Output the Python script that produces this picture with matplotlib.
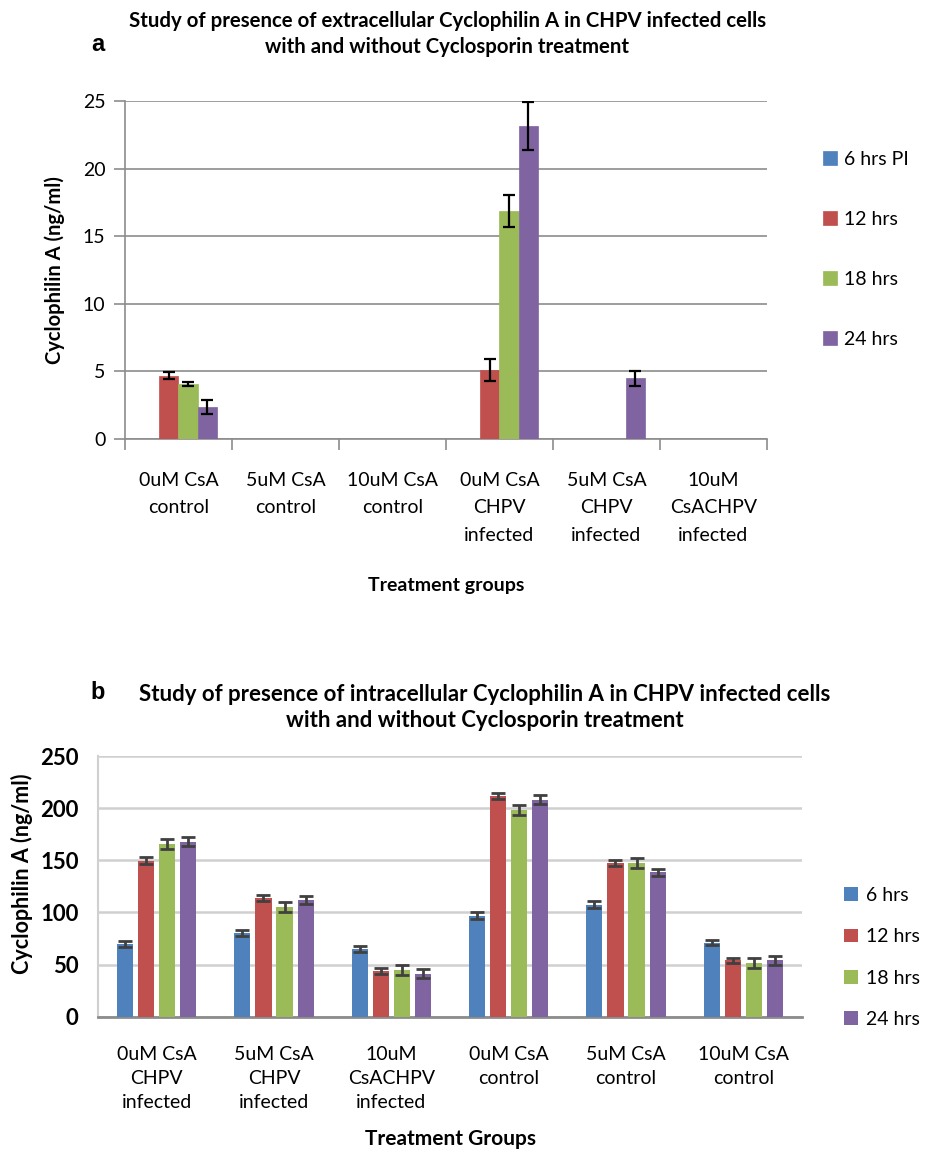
import matplotlib
matplotlib.use("Agg")
import matplotlib.pyplot as plt
import numpy as np

plt.rcParams['font.family'] = ['Lato', 'DejaVu Sans']

# panel a - extracellular
groups_a = ["0uM CsA\ncontrol", "5uM CsA\ncontrol", "10uM CsA\ncontrol",
            "0uM CsA\nCHPV\ninfected", "5uM CsA\nCHPV\ninfected", "10uM\nCsACHPV\ninfected"]
series_a = ["6 hrs PI", "12 hrs", "18 hrs", "24 hrs"]
h6_a = [0, 0, 0, 0, 0, 0]
h12_a = [4.68, 0, 0, 5.1, 0, 0]
h18_a = [4.07, 0, 0, 16.86, 0, 0]
h24_a = [2.39, 0, 0, 23.15, 4.5, 0]
e6_a = [0, 0, 0, 0, 0, 0]
e12_a = [0.25, 0, 0, 0.8, 0, 0]
e18_a = [0.15, 0, 0, 1.2, 0, 0]
e24_a = [0.52, 0, 0, 1.75, 0.55, 0]

# panel b - intracellular
groups_b = ["0uM CsA\nCHPV\ninfected", "5uM CsA\nCHPV\ninfected", "10uM\nCsACHPV\ninfected",
            "0uM CsA\ncontrol", "5uM CsA\ncontrol", "10uM CsA\ncontrol"]
series_b = ["6 hrs", "12 hrs", "18 hrs", "24 hrs"]
h6_b = [69.8, 80.1, 65.1, 97.0, 107.5, 71.2]
h12_b = [149.6, 114.2, 43.7, 211.4, 147.7, 54.2]
h18_b = [165.5, 105.2, 44.7, 198.7, 147.3, 51.4]
h24_b = [167.8, 112.0, 41.2, 208.0, 138.4, 54.0]
e6_b = [2.7, 2.7, 2.7, 3.2, 3.2, 2.7]
e12_b = [3.2, 2.8, 2.8, 2.7, 2.7, 2.6]
e18_b = [4.9, 5.0, 5.0, 4.8, 5.0, 5.0]
e24_b = [4.3, 4.0, 4.5, 4.3, 3.7, 4.0]

colors = ["#4F81BD", "#C0504D", "#9BBB59", "#8064A2"]

fig = plt.figure(figsize=(9.3, 11.49), dpi=100)

# ---------- panel a ----------
ax = fig.add_axes([0.1344, 0.6179, 0.6903, 0.2942])
x = np.arange(len(groups_a))
step = 0.178
vals_a = [h6_a, h12_a, h18_a, h24_a]
errs_a = [e6_a, e12_a, e18_a, e24_a]
for i in range(4):
    pos = x + (i - 1.5) * step
    v = np.array(vals_a[i], dtype=float)
    ax.bar(pos, v, width=step, color=colors[i], edgecolor=colors[i], linewidth=0.5, label=series_a[i], zorder=3)
    m = v > 0
    if m.any():
        ax.errorbar(pos[m], v[m], yerr=np.array(errs_a[i])[m], fmt="none", ecolor="black",
                    elinewidth=1.6, capsize=4, capthick=1.6, zorder=4)
ax.set_xlim(-0.5, 5.5)
ax.set_ylim(0, 25)
ax.set_yticks([0, 5, 10, 15, 20, 25])
ax.yaxis.grid(True, color="#8C8C8C", linewidth=1.2, zorder=0)
ax.set_xticks(x)
ax.set_xticklabels(groups_a, fontsize=14, linespacing=1.72, va="top")
ax.set_xticks(np.arange(-0.5, 6, 1), minor=True)
ax.tick_params(axis="x", which="major", length=0, pad=24)
ax.tick_params(axis="x", which="minor", length=8, color="#8C8C8C", width=1.2)
ax.tick_params(axis="y", length=8, color="#8C8C8C", width=1.2, labelsize=14, pad=6)
for s in ["top", "right"]:
    ax.spines[s].set_visible(False)
ax.spines["left"].set_color("#8C8C8C")
ax.spines["bottom"].set_color("#8C8C8C")
ax.spines["left"].set_linewidth(1.2)
ax.spines["bottom"].set_linewidth(1.2)
ax.set_xlabel("Treatment groups", fontsize=14, fontweight="bold", labelpad=24)
ax.set_ylabel("Cyclophilin A (ng/ml)", fontsize=14.5, fontweight="bold", labelpad=13)
leg = ax.legend(loc="upper left", bbox_to_anchor=(1.06, 0.905), frameon=False, fontsize=14,
                handlelength=0.7, handleheight=0.7, handletextpad=0.4, labelspacing=2.22)
fig.text(0.481, 0.99, "Study of presence of extracellular Cyclophilin A in CHPV infected cells\nwith and without Cyclosporin treatment",
         ha="center", va="top", fontsize=14.7, fontweight="bold", linespacing=1.33)
fig.text(0.105, 0.961, "a", ha="center", va="center", fontsize=17, fontweight="bold", family="Liberation Sans")

# ---------- panel b ----------
ax2 = fig.add_axes([0.1054, 0.1151, 0.757, 0.2269])
x = np.arange(len(groups_b))
step = 0.18
vals_b = [h6_b, h12_b, h18_b, h24_b]
errs_b = [e6_b, e12_b, e18_b, e24_b]
for i in range(4):
    pos = x + (i - 1.5) * step
    ax2.bar(pos, vals_b[i], width=0.138, color=colors[i], label=series_b[i], zorder=3)
    ax2.errorbar(pos, vals_b[i], yerr=errs_b[i], fmt="none", ecolor="#404040",
                 elinewidth=2, capsize=5, capthick=2, zorder=4)
ax2.set_xlim(-0.5, 5.5)
ax2.set_ylim(0, 250)
ax2.set_yticks([0, 50, 100, 150, 200, 250])
ax2.yaxis.grid(True, color="#D0D0D0", linewidth=1.8, zorder=0)
ax2.set_xticks(x)
ax2.set_xticklabels(groups_b, fontsize=14, linespacing=1.5, va="top")
ax2.tick_params(axis="x", length=0, pad=21)
ax2.tick_params(axis="y", length=0, labelsize=16, pad=14)
for lab in ax2.get_yticklabels():
    lab.set_fontweight("bold")
for s in ["top", "right"]:
    ax2.spines[s].set_visible(False)
ax2.spines["left"].set_color("#D0D0D0")
ax2.spines["left"].set_linewidth(1.5)
ax2.spines["bottom"].set_color("#8C8C8C")
ax2.spines["bottom"].set_linewidth(2)
ax2.set_xlabel("Treatment Groups", fontsize=15, fontweight="bold", labelpad=13)
ax2.set_ylabel("Cyclophilin A (ng/ml)", fontsize=15.5, fontweight="bold")
ax2.yaxis.set_label_coords(-0.093, 0.55)
ax2.legend(loc="upper left", bbox_to_anchor=(1.035, 0.565), frameon=False, fontsize=14,
           handlelength=0.7, handleheight=0.7, handletextpad=0.4, labelspacing=1.25)
fig.text(0.521, 0.405, "Study of presence of intracellular Cyclophilin A in CHPV infected cells\nwith and without Cyclosporin treatment",
         ha="center", va="top", fontsize=16, fontweight="bold", linespacing=1.33)
fig.text(0.105, 0.397, "b", ha="center", va="center", fontsize=17, fontweight="bold", family="Liberation Sans")

fig.savefig("out.png", dpi=100)
